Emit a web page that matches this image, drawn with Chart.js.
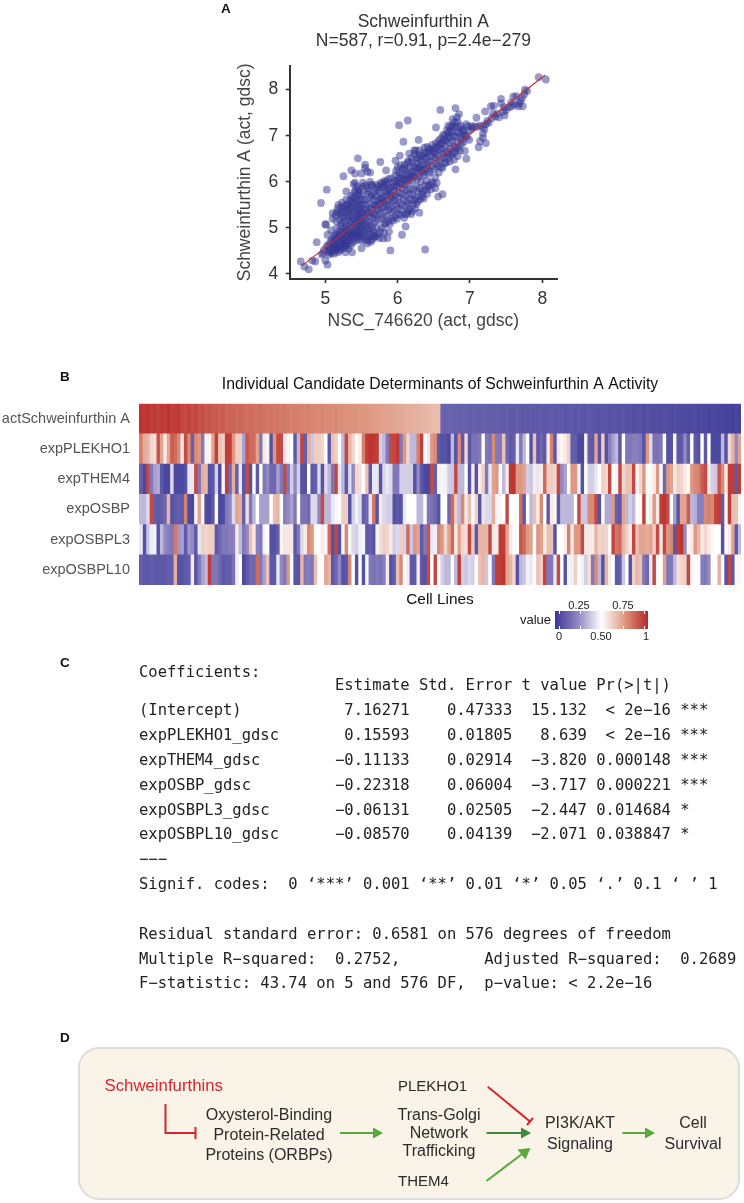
<!DOCTYPE html>
<html><head><meta charset="utf-8">
<script src="https://cdn.jsdelivr.net/npm/chart.js@4"></script>
<style>
html,body{margin:0;padding:0;background:#fff;width:744px;height:1203px;overflow:hidden;font-family:"Liberation Sans",Arial,sans-serif}
#page{position:absolute;left:0;top:0;width:744px;height:1203px;filter:blur(.35px)}
canvas{position:absolute;display:block}
.t{position:absolute;white-space:pre;line-height:1}
.c{transform:translateX(-50%)}
.p{font-weight:bold;font-size:13.5px;color:#111}
.m{font-family:"DejaVu Sans Mono",monospace;font-size:15.5px;color:#222;left:139px}
.d{font-size:16px;color:#2b2b2b}
.l{font-size:11px;color:#222}
</style></head><body><div id="page">
<canvas id="scatter" width="345" height="340" style="left:225px;top:0"></canvas>
<canvas id="heat" width="744" height="247" style="left:0;top:365px"></canvas>
<div class="t p" style="left:221px;top:2px">A</div>
<div class="t p" style="left:60px;top:370px">B</div>
<div class="t p" style="left:60px;top:656px">C</div>
<div class="t p" style="left:60px;top:1031px">D</div>
<div id="bar" style="position:absolute;left:555px;top:611px;width:93px;height:18px"></div>
<div class="t" style="left:520px;top:613px;font-size:13px;color:#222">value</div>
<div class="t l c" style="left:579px;top:600px">0.25</div>
<div class="t l c" style="left:623px;top:600px">0.75</div>
<div class="t l c" style="left:559px;top:631px">0</div>
<div class="t l c" style="left:601px;top:631px">0.50</div>
<div class="t l c" style="left:646px;top:631px">1</div>
<div id="coef"></div>
<svg style="position:absolute;left:0;top:0" width="744" height="1203" id="flow">
<rect x="79" y="1048" width="660" height="151" rx="20" ry="20" fill="#faf3e8" stroke="#dcdcdc" stroke-width="2"/>
<g fill="none" stroke="#d8252e" stroke-width="2">
<path d="M165.5 1104V1133H195.5M195.5 1127V1139"/>
<path d="M487.8 1086.7L530 1121.5M527 1125L533 1118"/>
</g>
<g stroke="#5aa83c" stroke-width="2" fill="#5aa83c">
<path d="M340 1133H373"/><path d="M373 1127.5L383 1133L373 1138.5Z" stroke="none"/>
<path d="M622.5 1133H645"/><path d="M645 1127.5L655 1133L645 1138.5Z" stroke="none"/>
<path d="M486.5 1181L522 1154"/><path d="M517.5 1149.5L530.5 1148L525.5 1159.5Z" stroke="none"/>
</g>
<g stroke="#3f8a3a" stroke-width="2" fill="#3f8a3a">
<path d="M486.5 1133H522"/><path d="M521 1127.5L531 1133L521 1138.5Z" stroke="none"/>
</g>
</svg>
<div id="flowText"></div>
</div>
<script>
// Panel A values: [NSC_746620, Schweinfurthin A]
const scatterPoints=[
[4.66,4.27],[4.71,4.16],[4.77,4.10],[4.82,4.29],[4.86,4.27],[4.88,4.69],[4.94,5.54],[5.02,5.83],[5.00,5.08],[5.01,5.07],[4.97,4.45],[5.03,4.20],[5.00,4.29],[4.95,4.42],[4.98,4.52],[5.02,4.60],
[5.05,4.42],[5.05,4.50],[5.06,4.56],[5.04,4.63],[5.07,4.70],[5.03,4.85],[5.08,4.95],[5.09,4.46],[5.10,4.53],[5.10,4.60],[5.11,4.67],[5.09,4.75],[5.12,4.82],[5.10,5.20],[5.10,5.32],[5.12,4.44],
[5.14,4.50],[5.15,4.57],[5.14,4.63],[5.16,4.70],[5.15,4.78],[5.14,4.86],[5.16,5.00],[5.14,5.28],[5.17,5.42],[5.16,5.34],[5.18,4.47],[5.19,4.54],[5.20,4.61],[5.19,4.68],[5.21,4.75],[5.20,4.82],
[5.19,4.92],[5.21,5.05],[5.20,5.18],[5.19,5.32],[5.18,5.50],[5.22,5.45],[5.22,4.58],[5.24,4.65],[5.25,4.72],[5.23,4.78],[5.25,4.85],[5.24,4.92],[5.26,5.00],[5.23,5.10],[5.25,5.22],[5.24,5.35],
[5.26,5.42],[5.23,5.55],[5.28,4.47],[5.28,4.60],[5.29,4.68],[5.27,4.75],[5.30,4.82],[5.28,4.88],[5.30,4.96],[5.29,5.05],[5.27,5.15],[5.30,5.25],[5.28,5.33],[5.30,5.50],[5.29,5.62],[5.25,6.12],
[5.29,5.79],[5.32,4.55],[5.33,4.72],[5.34,4.80],[5.32,4.87],[5.34,4.95],[5.33,5.02],[5.35,5.10],[5.32,5.18],[5.34,5.26],[5.33,5.34],[5.35,5.42],[5.32,5.50],[5.34,5.60],[5.36,5.70],[5.36,6.25],
[5.37,4.47],[5.38,4.68],[5.39,4.76],[5.37,4.84],[5.39,4.90],[5.38,4.98],[5.40,5.06],[5.37,5.14],[5.39,5.22],[5.38,5.30],[5.40,5.38],[5.37,5.46],[5.39,5.55],[5.38,5.66],[5.40,5.78],[5.39,5.95],
[5.41,5.98],[5.42,4.72],[5.44,4.80],[5.42,4.88],[5.43,4.95],[5.45,5.02],[5.42,5.10],[5.44,5.18],[5.43,5.26],[5.45,5.33],[5.42,5.42],[5.44,5.50],[5.43,5.60],[5.45,5.70],[5.42,5.82],[5.44,5.90],
[5.45,6.51],[5.41,6.18],[5.47,4.75],[5.48,4.84],[5.46,4.92],[5.49,5.00],[5.47,5.07],[5.48,5.15],[5.46,5.22],[5.49,5.30],[5.47,5.38],[5.48,5.46],[5.46,5.54],[5.49,5.62],[5.47,5.74],[5.48,5.85],
[5.50,4.56],[5.51,4.72],[5.52,4.80],[5.50,4.88],[5.53,4.95],[5.51,5.03],[5.52,5.10],[5.50,5.18],[5.53,5.26],[5.51,5.34],[5.52,5.42],[5.50,5.50],[5.53,5.60],[5.51,5.72],[5.52,5.90],[5.50,6.18],
[5.55,6.37],[5.55,6.30],[5.56,4.74],[5.57,4.82],[5.55,4.90],[5.58,4.98],[5.56,5.06],[5.57,5.14],[5.55,5.22],[5.58,5.32],[5.56,5.40],[5.57,5.50],[5.55,5.60],[5.58,5.75],[5.56,5.92],[5.58,6.22],
[5.60,4.72],[5.61,4.80],[5.62,4.88],[5.60,4.97],[5.63,5.05],[5.61,5.12],[5.62,5.26],[5.60,5.34],[5.63,5.42],[5.61,5.52],[5.62,5.66],[5.60,5.80],[5.63,5.93],[5.62,6.20],[5.65,4.75],[5.66,4.84],
[5.67,4.92],[5.65,5.00],[5.68,5.12],[5.66,5.22],[5.67,5.30],[5.65,5.40],[5.68,5.50],[5.66,5.62],[5.67,5.76],[5.65,5.92],[5.70,4.82],[5.71,5.00],[5.72,5.16],[5.70,5.28],[5.73,5.38],[5.71,5.46],
[5.72,5.58],[5.70,5.70],[5.73,5.82],[5.71,5.94],[5.76,6.43],[5.75,4.78],[5.76,4.92],[5.77,5.20],[5.75,5.32],[5.78,5.42],[5.76,5.52],[5.77,5.64],[5.75,5.76],[5.78,5.88],[5.77,5.98],[5.80,4.77],
[5.81,4.90],[5.84,6.25],[5.82,5.08],[5.80,5.24],[5.83,5.36],[5.81,5.46],[5.82,5.56],[5.80,5.68],[5.83,5.78],[5.81,5.90],[5.82,6.02],[5.86,4.78],[5.88,4.92],[5.90,4.51],[5.87,5.14],[5.85,5.26],
[5.88,5.40],[5.86,5.50],[5.87,5.60],[5.85,5.72],[5.88,5.84],[5.86,5.94],[5.87,6.06],[5.91,5.20],[5.92,5.34],[5.90,5.46],[5.93,5.56],[5.91,5.66],[5.92,5.76],[5.90,5.88],[5.93,5.98],[5.91,6.08],
[5.97,6.46],[5.96,5.24],[5.95,5.38],[5.98,5.50],[5.96,5.60],[5.97,5.70],[5.95,5.80],[5.98,5.92],[5.96,6.02],[5.97,6.14],[6.02,7.23],[6.03,6.57],[6.01,5.30],[6.00,5.42],[6.03,5.54],[6.01,5.66],
[6.02,5.76],[6.00,5.88],[6.03,5.98],[6.01,6.08],[6.02,6.20],[6.00,6.32],[6.06,4.85],[6.11,5.03],[6.08,6.87],[6.05,5.38],[6.06,5.50],[6.08,5.62],[6.06,5.74],[6.07,5.86],[6.05,5.96],[6.08,6.06],
[6.06,6.16],[6.07,6.28],[6.14,7.33],[6.16,6.61],[6.10,5.30],[6.11,5.46],[6.13,5.58],[6.11,5.70],[6.12,5.82],[6.10,5.94],[6.13,6.04],[6.11,6.14],[6.12,6.26],[6.10,6.38],[6.16,5.40],[6.15,5.52],
[6.18,5.62],[6.16,5.74],[6.17,5.84],[6.15,5.98],[6.18,6.08],[6.16,6.18],[6.17,6.30],[6.15,6.42],[6.20,5.36],[6.21,5.50],[6.23,5.60],[6.21,5.72],[6.22,5.84],[6.20,6.02],[6.23,6.12],[6.21,6.22],
[6.22,6.34],[6.20,6.44],[6.23,6.68],[6.30,5.33],[6.29,6.91],[6.26,5.52],[6.25,5.66],[6.28,5.78],[6.26,5.90],[6.27,6.06],[6.25,6.18],[6.28,6.28],[6.26,6.40],[6.27,6.52],[6.25,6.68],[6.30,6.68],
[6.31,5.62],[6.33,5.74],[6.31,5.86],[6.32,6.00],[6.30,6.12],[6.33,6.24],[6.31,6.34],[6.32,6.46],[6.30,6.58],[6.38,4.53],[6.36,5.64],[6.35,5.80],[6.38,5.92],[6.36,6.14],[6.37,6.26],[6.35,6.38],
[6.38,6.50],[6.36,6.62],[6.37,6.74],[6.41,5.74],[6.42,5.90],[6.40,6.02],[6.43,6.18],[6.41,6.30],[6.42,6.42],[6.40,6.54],[6.43,6.64],[6.41,6.76],[6.46,5.84],[6.47,6.00],[6.45,6.22],[6.48,6.34],
[6.46,6.46],[6.47,6.56],[6.45,6.68],[6.48,6.80],[6.53,7.18],[6.56,5.68],[6.62,5.73],[6.52,5.86],[6.54,5.98],[6.51,6.28],[6.53,6.40],[6.51,6.52],[6.52,6.62],[6.50,6.72],[6.53,6.84],[6.59,7.56],
[6.56,6.34],[6.57,6.46],[6.55,6.58],[6.58,6.68],[6.56,6.78],[6.57,6.90],[6.60,6.32],[6.61,6.50],[6.63,6.62],[6.61,6.72],[6.62,6.84],[6.60,6.94],[6.63,7.02],[6.67,6.42],[6.65,6.54],[6.68,6.66],
[6.66,6.78],[6.67,6.90],[6.65,7.00],[6.68,7.12],[6.70,7.22],[6.72,6.44],[6.70,6.62],[6.73,6.72],[6.71,6.84],[6.72,6.96],[6.70,7.06],[6.73,7.20],[6.80,6.27],[6.78,6.48],[6.76,6.62],[6.78,6.76],
[6.76,6.88],[6.77,7.00],[6.75,7.08],[6.78,7.18],[6.76,7.36],[6.80,7.60],[6.85,7.47],[6.82,7.40],[6.83,6.56],[6.81,6.72],[6.82,6.86],[6.80,6.98],[6.83,7.08],[6.81,7.20],[6.86,6.68],[6.88,6.82],
[6.87,6.96],[6.85,7.06],[6.88,7.16],[6.95,6.50],[6.93,6.67],[6.99,6.91],[6.91,6.86],[6.92,7.00],[6.90,7.12],[6.95,7.25],[6.96,6.98],[7.00,7.12],[7.12,6.75],[7.14,6.88],[7.22,6.84],[7.18,7.05],
[7.18,6.96],[7.09,7.39],[7.02,7.21],[7.06,7.20],[7.10,7.19],[7.14,7.22],[7.18,7.20],[7.22,7.25],[7.21,7.53],[7.26,7.28],[7.29,7.64],[7.33,7.65],[7.30,7.38],[7.35,7.42],[7.40,7.40],[7.38,7.48],
[7.43,7.80],[7.43,7.70],[7.48,7.44],[7.47,7.62],[7.50,7.56],[7.54,7.62],[7.57,7.72],[7.60,7.85],[7.64,7.86],[7.62,7.68],[7.68,7.70],[7.73,7.64],[7.67,7.64],[7.72,7.82],[7.76,8.00],[7.79,7.97],
[7.95,8.27],[8.05,8.22],
[5.06,4.47],[5.13,4.56],[5.17,4.60],[5.21,4.52],[5.26,4.56],[5.30,4.63],[5.35,4.62],[5.12,4.72],[5.17,4.84],[5.22,4.90],[5.27,4.66],[5.31,4.75],[5.36,4.86],[5.41,4.85],[5.46,4.85],
[5.15,5.15],[5.22,5.28],[5.27,5.48],[5.31,5.40],[5.36,5.56],[5.41,5.66],[5.46,5.80],[5.52,5.98],[5.58,5.86],[5.62,6.00],[5.64,5.70],[5.69,5.86],[5.74,5.90],[5.79,5.96],[5.84,6.00],
[5.58,4.66],[5.63,4.70],[5.68,4.80],[5.72,4.86],[5.78,5.00],[5.83,5.10],[5.89,5.08],[5.94,5.16],[5.99,5.20],[6.04,5.28],[6.09,5.22],[6.14,5.36],[6.19,5.30],[6.24,5.42],[6.13,5.30],
[5.70,5.50],[5.75,5.62],[5.80,5.60],[5.85,5.80],[5.90,5.70],[5.95,5.90],[6.00,6.02],[6.05,6.10],[6.10,6.02],[6.15,6.12],[6.20,6.14],[6.25,6.30],[6.30,6.30],[6.35,6.20],[6.40,6.36],
[5.98,6.24],[6.04,6.36],[6.09,6.30],[6.14,6.44],[6.19,6.52],[6.24,6.60],[6.29,6.50],[6.34,6.56],[6.39,6.62],[6.44,6.72],[6.49,6.66],[6.54,6.74],[6.59,6.82],[6.64,6.90],[6.69,6.96],
[6.28,5.58],[6.34,5.68],[6.39,5.82],[6.44,5.92],[6.49,5.96],[6.52,6.10],[6.57,6.20],[6.62,6.30],[6.65,6.40],[6.70,6.52],[6.74,6.58],[6.79,6.64],[6.84,6.74],[6.89,6.92],[6.94,7.02],
[6.72,7.10],[6.76,7.22],[6.79,7.30],[6.83,7.30],[6.87,7.22],[6.91,7.10],[6.97,7.20],[7.03,7.16],[7.20,7.14],[7.24,7.32],[7.32,7.48],[7.46,7.52],[7.58,7.64],[7.70,7.76],[7.75,7.90]
];
const fitLineX=[4.68,8.04];
const fitLineY=[4.18,8.32];
const xTicks=[5,6,7,8];
const yTicks=[4,5,6,7,8];

// Panel B values
const rowLabels=["actSchweinfurthin A","expPLEKHO1","expTHEM4","expOSBP","expOSBPL3","expOSBPL10"];
const actSchweinfurthin=[.97,.96,.97,.95,.96,.94,.96,.95,.97,.94,.95,.96,.93,.92,.94,.91,.93,.9,.91,.89,.9,.88,.89,.87,.88,.86,.87,.86,.85,.86,.85,.84,.85,.84,.83,.84,.83,.82,.83,.82,.82,.81,.82,.81,
.8,.81,.8,.8,.79,.8,.79,.79,.78,.79,.78,.78,.77,.78,.77,.77,.76,.77,.76,.76,.75,.75,.75,.74,.74,.74,.73,.73,.72,.72,.72,.71,.71,.7,.7,.7,.69,.69,.68,.68,.67,.67,.66,.66,
.14,.13,.14,.13,.13,.12,.13,.13,.12,.13,.12,.12,.13,.12,.12,.11,.12,.12,.11,.12,.11,.11,.12,.11,.11,.1,.11,.11,.1,.11,.1,.1,.11,.1,.1,.1,.09,.1,.1,.09,.1,.09,.09,.1,
.09,.09,.08,.09,.09,.08,.09,.08,.08,.09,.08,.08,.07,.08,.08,.07,.08,.07,.07,.07,.06,.07,.07,.06,.07,.06,.06,.06,.05,.06,.06,.05,.05,.05,.04,.05,.05,.04,.04,.04,.04,.03,.04,.03];
const expPLEKHO1=[.8,.7,.68,.6,.58,.9,.72,.55,.72,.88,.85,.78,.55,.92,.78,.12,.78,.75,.2,.48,.53,.72,.95,.65,.62,.95,.95,.75,.62,.62,.3,.9,.85,.85,.72,.2,.55,.52,.08,.75,.92,.92,.45,.53,
.5,.1,.35,.93,.12,.7,.38,.62,.62,.6,.5,.1,.65,.62,.5,.35,.93,.68,.6,.5,.55,.8,.95,.97,.96,.95,.4,.35,.2,.92,.93,.96,.2,.75,.6,.35,.35,.8,.95,.5,.45,.75,.78,.1,
.08,.08,.05,.35,.08,.78,.1,.6,.1,.18,.18,.2,.5,.2,.18,.78,.2,.2,.65,.15,.1,.12,.45,.2,.35,.5,.08,.65,.1,.15,.1,.55,.8,.1,.55,.52,.55,.62,.12,.12,.05,.05,.55,.12,
.1,.72,.08,.62,.08,.22,.3,.35,.1,.5,.2,.2,.22,.22,.2,.08,.75,.42,.18,.18,.2,.5,.08,.08,.52,.1,.1,.25,.12,.5,.1,.08,.5,.1,.5,.05,.05,.05,.35,.08,.6,.68,.25,.72];
const expTHEM4=[.12,.05,.92,.2,.3,.32,.1,.05,.05,.42,.05,.05,.05,.08,.45,.45,.92,.2,.7,.68,.08,.1,.4,.05,.48,.95,.15,.7,.12,.45,.1,.92,.08,.5,.1,.5,.2,.25,.15,.15,.3,.2,.92,.2,
.4,.25,.4,.08,.08,.5,.1,.12,.42,.08,.42,.35,.2,.93,.45,.35,.1,.42,.25,.6,.58,.5,.65,.1,.45,.45,.08,.42,.45,.42,.2,.2,.4,.4,.4,.4,.08,.25,.1,.05,.05,.92,.12,.47,
.48,.47,.4,.38,.92,.35,.35,.5,.08,.55,.08,.55,.62,.2,.45,.72,.75,.5,.35,.55,.96,.97,.75,.75,.72,.4,.38,.55,.45,.55,.85,.62,.62,.6,.93,.25,.3,.5,.75,.75,.47,.08,.5,.4,
.4,.45,.5,.62,.6,.93,.5,.48,.93,.6,.65,.65,.93,.52,.6,.75,.5,.52,.55,.75,.5,.15,.75,.72,.55,.62,.6,.55,.52,.75,.78,.8,.88,.92,.55,.4,.38,.9,.78,.55,.95,.95,.1,.95];
const expOSBP=[.35,.35,.42,.92,.12,.1,.12,.15,.68,.08,.1,.12,.1,.8,.06,.05,.48,.72,.52,.06,.05,.1,.5,.05,.06,.2,.25,.42,.72,.7,.12,.58,.2,.35,.5,.3,.3,.3,.5,.66,.68,.5,.22,.25,
.3,.2,.5,.18,.18,.15,.42,.42,.25,.92,.35,.35,.45,.48,.5,.62,.62,.08,.4,.47,.42,.12,.15,.45,.82,.08,.55,.42,.4,.4,.08,.1,.08,.45,.5,.5,.5,.35,.35,.5,.2,.18,.15,.08,
.5,.5,.15,.85,.62,.35,.78,.55,.65,.5,.62,.08,.45,.42,.42,.7,.52,.52,.5,.92,.5,.5,.5,.85,.1,.5,.35,.65,.55,.78,.5,.1,.55,.52,.1,.35,.35,.35,.35,.5,.92,.38,.38,.78,
.78,.92,.08,.5,.32,.32,.75,.12,.1,.72,.35,.4,.35,.5,.52,.95,.5,.55,.75,.55,.95,.97,.92,.5,.3,.08,.72,.72,.88,.35,.33,.22,.22,.78,.8,.78,.93,.95,.1,.52,.95,.65,.65,.52];
const expOSBPL3=[.45,.08,.38,.46,.47,.08,.35,.25,.22,.2,.82,.28,.3,.1,.28,.25,.1,.45,.62,.6,.62,.62,.1,.15,.2,.2,.22,.22,.55,.35,.2,.25,.65,.55,.22,.2,.48,.5,.08,.08,.12,.48,.56,.56,
.55,.1,.2,.42,.55,.78,.75,.5,.5,.55,.48,.85,.08,.93,.08,.48,.78,.52,.42,.4,.47,.48,.1,.12,.08,.48,.58,.62,.6,.55,.4,.42,.62,.4,.85,.38,.75,.72,.1,.2,.9,.45,.47,.78,
.75,.6,.72,.85,.55,.72,.6,.58,.93,.62,.1,.68,.68,.68,.93,.55,.55,.95,.95,.72,.55,.5,.5,.9,.85,.75,.72,.5,.75,.72,.55,.65,.65,.08,.5,.5,.55,.8,.55,.75,.75,.92,.55,.55,
.55,.68,.6,.62,.6,.52,.93,.82,.85,.68,.62,.55,.93,.65,.72,.72,.7,.72,.62,.92,.55,.93,.75,.78,.1,.95,.97,.25,.52,.55,.75,.68,.55,.6,.55,.52,.5,.5,.08,.52,.55,.72,.1,.35];
const expOSBPL10=[.12,.1,.1,.12,.1,.1,.1,.1,.12,.12,.7,.08,.08,.1,.12,.55,.08,.2,.3,.35,.95,.2,.2,.15,.1,.12,.12,.18,.47,.5,.05,.1,.15,.15,.85,.2,.3,.65,.1,.1,.45,.25,.2,.75,
.5,.1,.08,.68,.2,.22,.2,.65,.5,.5,.72,.68,.1,.15,.25,.08,.1,.78,.5,.08,.5,.08,.48,.2,.18,.2,.18,.22,.55,.08,.12,.65,.78,.5,.55,.1,.1,.55,.1,.08,.92,.5,.93,.5,
.4,.35,.35,.5,.35,.95,.4,.38,.42,.4,.5,.65,.68,.38,.5,.2,.95,.95,.97,.72,.68,.6,.08,.35,.38,.47,.45,.5,.65,.62,.93,.2,.2,.45,.92,.5,.08,.48,.47,.62,.5,.47,.4,.58,
.2,.78,.35,.08,.68,.55,.5,.1,.12,.38,.5,.08,.62,.68,.65,.2,.15,.45,.93,.52,.5,.72,.2,.2,.35,.58,.6,.62,.93,.52,.5,.5,.22,.2,.25,.5,.5,.7,.5,.08,.93,.1,.52,.52];
const heatRows=[actSchweinfurthin,expPLEKHO1,expTHEM4,expOSBP,expOSBPL3,expOSBPL10];
const cellCount=actSchweinfurthin.length;
const colorStops=[[0,[58,56,150]],[.25,[146,136,194]],[.5,[255,255,255]],[.75,[222,152,130]],[1,[184,38,38]]];
const legendTicks=[0,.25,.5,.75,1];

function heatColor(v){
  for(let i=1;i<colorStops.length;i++){
    const a=colorStops[i-1],b=colorStops[i];
    if(v<=b[0]){const t=(v-a[0])/(b[0]-a[0]);
      return 'rgb('+a[1].map((c,k)=>Math.round(c+(b[1][k]-c)*t)).join(',')+')';}
  }
  return 'rgb(184,38,38)';
}
Chart.defaults.font.family='"Liberation Sans",Arial,sans-serif';
Chart.defaults.animation=false;

new Chart(document.getElementById('scatter'),{
  type:'scatter',
  data:{datasets:[
    {data:scatterPoints.map(p=>({x:p[0],y:p[1]})),pointRadius:3.9,borderWidth:0,pointBorderWidth:0,backgroundColor:'rgba(52,54,148,0.5)',order:2},
    {data:fitLineX.map((x,i)=>({x,y:fitLineY[i]})),showLine:true,pointRadius:0,borderColor:'#c43038',borderWidth:1.2,order:1}
  ]},
  options:{responsive:false,devicePixelRatio:1,
    layout:{padding:{left:0,right:13,top:0,bottom:0}},
    plugins:{legend:{display:false},tooltip:{enabled:false},
      title:{display:true,fullSize:false,text:['Schweinfurthin A','N=587, r=0.91, p=2.4e\u2212279'],color:'#333',font:{size:17.5,weight:'normal',lineHeight:1.1},padding:{top:12.3,bottom:14.9}}},
    scales:{
      x:{type:'linear',min:4.507,max:8.204,afterBuildTicks(s){s.ticks=xTicks.map(v=>({value:v}));},afterFit(s){s.height=61;},
        grid:{drawOnChartArea:false,tickLength:4,tickColor:'#333',tickWidth:1.6},border:{color:'#333',width:2},
        ticks:{color:'#333',font:{size:17.5},padding:6,maxRotation:0},
        title:{display:true,text:'NSC_746620 (act, gdsc)',color:'#444',font:{size:17.5},padding:{top:4,bottom:8}}},
      y:{type:'linear',min:3.89,max:8.52,afterBuildTicks(s){s.ticks=yTicks.map(v=>({value:v}));},afterFit(s){s.width=64.7;},
        grid:{drawOnChartArea:false,tickLength:4,tickColor:'#333',tickWidth:1.6},border:{color:'#333',width:2},
        ticks:{color:'#333',font:{size:17.5},padding:7.5},
        title:{display:true,text:'Schweinfurthin A (act, gdsc)',color:'#444',font:{size:17.5},padding:{top:9.5,bottom:0}}}
    }}
});

new Chart(document.getElementById('heat'),{
  type:'bar',
  data:{labels:rowLabels,datasets:Array.from({length:cellCount},(_,col)=>({
    data:rowLabels.map(()=>1),
    backgroundColor:heatRows.map(r=>heatColor(r[col])),
    borderWidth:0,barPercentage:1,categoryPercentage:1,inflateAmount:0.4
  }))},
  options:{indexAxis:'y',responsive:false,devicePixelRatio:1,
    layout:{padding:{left:0,right:3,top:0,bottom:0}},
    plugins:{legend:{display:false},tooltip:{enabled:false},
      title:{display:true,fullSize:false,text:'Individual Candidate Determinants of Schweinfurthin A Activity',color:'#111',font:{size:15.8,weight:'normal',lineHeight:1.2},padding:{top:10.5,bottom:9.2}}},
    scales:{
      x:{stacked:true,min:0,max:cellCount,afterFit(s){s.height=27;},grid:{display:false},border:{display:false},ticks:{display:false},
        title:{display:true,text:'Cell Lines',color:'#111',font:{size:15.4},padding:{top:2,bottom:3}}},
      y:{stacked:true,afterFit(s){s.width=139;},grid:{display:false},border:{display:false},ticks:{color:'#555',font:{size:14.5},padding:1,autoSkip:false}}
    }}
});

// colour bar legend
const barEl=document.getElementById('bar');
barEl.style.background='linear-gradient(to right,'+colorStops.map(s=>heatColor(s[0])+' '+(s[0]*100)+'%').join(',')+')';
legendTicks.forEach(v=>{[0,15].forEach(top=>{const m=document.createElement('div');
  m.style.cssText='position:absolute;width:1px;height:3px;background:#fff;top:'+top+'px;left:'+(4+v*85)+'px';barEl.appendChild(m);});});

// Panel C text
const coefLines=[
[672,'Coefficients:'],
[685,'                     Estimate Std. Error t value Pr(>|t|)'],
[710.7,'(Intercept)           7.16271    0.47333  15.132  < 2e\u221216 ***'],
[735.4,'expPLEKHO1_gdsc       0.15593    0.01805   8.639  < 2e\u221216 ***'],
[760.3,'expTHEM4_gdsc        \u22120.11133    0.02914  \u22123.820 0.000148 ***'],
[785,'expOSBP_gdsc         \u22120.22318    0.06004  \u22123.717 0.000221 ***'],
[810,'expOSBPL3_gdsc       \u22120.06131    0.02505  \u22122.447 0.014684 *'],
[834.8,'expOSBPL10_gdsc      \u22120.08570    0.04139  \u22122.071 0.038847 *'],
[859.7,'\u2212\u2212\u2212'],
[884.4,'Signif. codes:  0 \u2018***\u2019 0.001 \u2018**\u2019 0.01 \u2018*\u2019 0.05 \u2018.\u2019 0.1 \u2018 \u2019 1'],
[934.3,'Residual standard error: 0.6581 on 576 degrees of freedom'],
[959,'Multiple R\u2212squared:  0.2752,         Adjusted R\u2212squared:  0.2689'],
[983.7,'F\u2212statistic: 43.74 on 5 and 576 DF,  p\u2212value: < 2.2e\u221216']
];
const coefHost=document.getElementById('coef');
coefLines.forEach(([y,s])=>{const d=document.createElement('div');d.className='t m';d.style.top=(y-7.5)+'px';d.textContent=s;coefHost.appendChild(d);});

// Panel D text
const flowLabels=[
[104.5,1086,'Schweinfurthins',0,'#d8252e',16.8],
[269,1115,'Oxysterol-Binding',1],[269,1135,'Protein-Related',1],[269,1155,'Proteins (ORBPs)',1],
[398,1086,'PLEKHO1',0,null,15],
[439,1115,'Trans-Golgi',1],[439,1133,'Network',1],[439,1151,'Trafficking',1],
[398,1181,'THEM4',0,null,15],
[580,1123,'PI3K/AKT',1],[580,1144,'Signaling',1],
[693,1123,'Cell',1],[693,1144,'Survival',1]
];
const flowHost=document.getElementById('flowText');
flowLabels.forEach(([x,y,s,c,col,fs])=>{const d=document.createElement('div');d.className='t d'+(c?' c':'');d.style.left=x+'px';d.style.top=(y-8)+'px';d.textContent=s;if(col)d.style.color=col;if(fs)d.style.fontSize=fs+'px';flowHost.appendChild(d);});
</script>
</body></html>
